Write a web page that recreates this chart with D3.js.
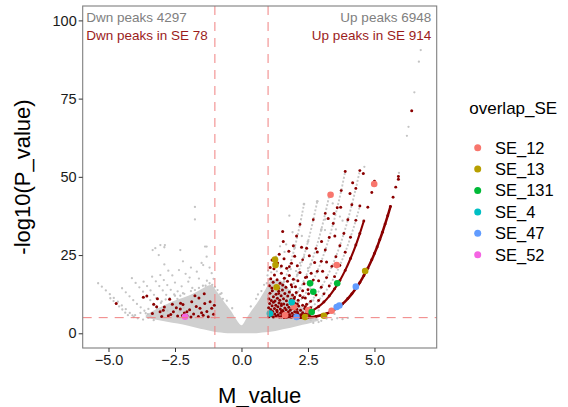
<!DOCTYPE html>
<html lang="en">
<head>
  <meta charset="UTF-8">
  <title>Volcano plot</title>
  <style>
    body { margin: 0; background: #fff; }
    text { font-family: "Liberation Sans", Arial, sans-serif; }
  </style>
  <script src="https://d3js.org/d3.v7.min.js"></script>
</head>
<body>
  <svg id="chart" width="568" height="407"></svg>
  <script>
    // ---- data ----
    const xTicks = [-5, -2.5, 0, 2.5, 5];
    const yTicks = [0, 25, 50, 75, 100];
    const foldCut = [-1, 1];
    const pCut = 5;

    const dwnTotal = 4297, dwnInSE = 78, upTotal = 6948, upInSE = 914;

    const seGroups = ["SE_12", "SE_13", "SE_131", "SE_4", "SE_47", "SE_52"];
    const seColors = ["#F8766D", "#B79F00", "#00BA38", "#00BFC4", "#619CFF", "#F564E3"];

    // dense grey core of non significant peaks: [M, low, high]
    const coreCloud = [
      [-3.6, 5.0, 5.8], [-3.2, 4.3, 7.8], [-2.8, 3.7, 9.4], [-2.4, 3.1, 10.8],
      [-2.0, 2.4, 12.0], [-1.7, 1.8, 13.2], [-1.4, 1.2, 14.6], [-1.15, 0.7, 15.4],
      [-0.9, 0.3, 13.0], [-0.65, 0.1, 10.0], [-0.4, 0.0, 7.2], [-0.2, 0.0, 4.5],
      [0.0, 0.0, 2.6], [0.2, 0.0, 5.0], [0.4, 0.0, 7.5], [0.65, 0.1, 10.5],
      [0.9, 0.3, 14.0], [1.15, 0.6, 17.0], [1.4, 1.0, 17.0], [1.7, 1.5, 15.0],
      [2.0, 2.1, 11.0], [2.3, 2.7, 8.0], [2.6, 3.3, 6.0], [2.9, 4.0, 4.6]
    ];

    // count arcs on the up side (outermost first)
    const arc1 = [[2.2,5.0],[2.5,5.1],[2.8,5.4],[3.0,5.8],[3.2,6.3],[3.4,7.1],[3.6,8.1],[3.8,9.4],[4.0,11.1],[4.15,12.6],[4.3,14.3],[4.45,16.2],[4.6,18.4],[4.75,20.8],[4.9,23.5],[5.0,25.5],[5.1,27.6],[5.2,29.9],[5.3,32.3],[5.4,34.9],[5.5,37.6],[5.6,40.5],[5.7,43.5],[5.8,46.7],[5.9,50.1]];
    const arc2 = [[1.6,5.0],[1.9,5.2],[2.2,5.6],[2.5,6.5],[2.7,7.4],[2.9,8.5],[3.1,10.0],[3.3,11.9],[3.5,14.2],[3.7,16.9],[3.9,20.1],[4.1,23.9],[4.3,28.2],[4.45,31.9],[4.6,35.9],[4.75,40.3],[4.9,45.0],[5.0,48.6]];
    const arc3 = [[1.7,5.2],[2.0,5.7],[2.3,6.6],[2.6,8.2],[2.9,10.5],[3.1,12.6],[3.3,15.1],[3.5,18.1],[3.7,21.7],[3.9,25.9],[4.1,30.7],[4.3,36.1],[4.45,40.7]];
    const arc4 = [[1.5,5.2],[1.8,5.8],[2.1,6.8],[2.4,8.5],[2.6,10.2],[2.8,12.2],[3.0,14.7],[3.2,17.8],[3.4,21.4],[3.55,24.5],[3.7,28.0],[3.85,31.9],[4.0,36.3],[4.15,41.1],[4.3,46.3],[4.45,52.0]];
    const arc5 = [[1.3,5.4],[1.6,6.3],[1.9,7.9],[2.1,9.4],[2.3,11.4],[2.5,13.9],[2.7,17.0],[2.85,19.8],[3.0,23.0],[3.15,26.6],[3.3,30.6],[3.45,35.1],[3.6,40.1],[3.75,45.6],[3.9,51.7]];
    const arc6 = [[1.2,5.8],[1.5,7.1],[1.8,9.4],[2.0,11.6],[2.2,14.3],[2.4,17.8],[2.6,22.0],[2.8,27.1],[3.0,33.1],[3.15,38.3],[3.3,44.0]];
    const arc7 = [[1.2,7.0],[1.5,9.4],[1.7,11.8],[1.9,14.8],[2.1,18.7],[2.3,23.5],[2.5,29.3],[2.7,36.3],[2.85,42.2]];
    const arc8 = [[1.2,9.8],[1.4,12.7],[1.6,16.5],[1.8,21.3],[2.0,27.4],[2.2,34.8],[2.35,41.3]];

    // scattered grey peaks
    const greyPts = [
      // down-side count lines
      [-5.39,16.0],[-5.25,14.9],[-5.1,13.7],[-4.95,12.5],[-4.8,11.3],[-4.65,10.1],[-4.5,8.9],[-4.35,7.7],[-4.2,6.5],[-4.1,5.7],
      [-4.93,11.2],[-4.81,10.3],[-4.6,8.6],[-4.48,7.6],[-4.37,6.6],[-4.27,5.8],
      [-4.49,14.4],[-4.35,13.1],[-4.21,11.8],[-4.07,10.6],[-3.93,9.4],[-3.79,8.3],[-3.65,7.2],[-3.52,6.1],[-3.42,5.3],
      [-4.12,17.6],[-3.98,16.1],[-3.84,14.7],[-3.7,13.3],[-3.43,10.6],[-3.18,8.1],[-2.95,5.8],
      [-3.68,16.5],[-3.55,15.1],[-3.42,13.7],[-3.29,12.3],[-3.03,9.7],[-2.78,7.2],
      [-3.36,18.1],[-3.22,16.6],[-3.09,15.1],[-2.96,13.7],[-2.83,12.3],[-2.57,9.5],[-2.33,6.9],
      [-3.05,18.6],[-2.92,17.0],[-2.79,15.4],[-2.66,13.9],[-2.53,12.4],[-2.41,11.0],[-2.17,8.2],
      // down-side halo
      [-1.75,40.4],[-1.75,36.4],[-2.88,28.2],[-3.34,26.6],[-3.24,27.2],[-3.05,28.2],[-2.9,27.5],[-3.11,25.0],
      [-2.30,26.6],[-1.31,27.7],[-1.37,27.7],[-1.31,24.5],[-1.44,21.8],[-1.12,19.2],[-1.68,19.7],[-1.9,21.0],
      [-2.1,19.0],[-2.35,20.2],[-2.6,18.5],[-2.0,16.5],[-1.6,17.5],[-1.3,16.8],[-2.25,15.0],[-2.5,16.2],
      [-1.85,14.5],[-1.1,15.5],[-0.9,13.8],[-1.5,22.5],[-2.75,20.0],[-2.2,23.0],[-1.2,21.0],[-0.8,12.5],
      [-2.9,22.0],[-1.95,17.8],[-1.45,15.2],[-2.4,13.4],[-2.15,12.6],[-1.05,17.4],[-0.7,11.0],[-3.2,11.2],
      [-3.8,6.5],[-3.5,7.8],[-3.3,9.0],[-3.0,10.2],[-2.7,11.2],[-2.5,12.0],[-2.2,12.8],[-1.9,13.5],
      [-1.6,14.5],[-1.35,15.2],[-1.2,16.0],[-1.0,14.8],[-0.75,12.8],[-0.55,10.4],[-0.35,8.0],[-4.0,5.8],
      [-3.6,6.4],[-2.85,10.8],[-2.3,12.0],[-1.75,13.8],
      [-3.9,4.8],[-3.7,4.4],[-3.5,4.9],[-4.05,5.2],[-3.3,4.2],
      // around the notch and the up-side hump
      [0.35,8.6],[0.55,11.0],[0.75,13.5],[0.85,15.5],[0.62,12.4],
      // up-side halo
      [1.80,37.6],[1.92,32.3],[2.27,31.1],[3.43,41.5],[3.70,37.3],[3.15,36.4],[3.80,36.0],[3.55,33.2],
      [3.14,33.0],[4.62,53.2],[6.74,90.5],[6.67,86.8],[6.50,77.0],[6.28,66.0],[6.22,63.1],[5.92,51.3],
      [1.12,19.5],[1.2,22.2],[1.33,19.8],[1.47,21.0],[1.62,26.0],[1.3,24.5],[1.05,17.0],[1.85,20.5],
      [2.05,19.9],[2.6,14.2],[2.5,20.8],[2.2,22.5],[1.68,28.4],[1.45,27.8],[2.35,24.3],[2.7,10.5],
      [2.9,7.3],[3.2,5.5],[3.5,6.2],[0.95,16.0],[0.98,18.5],[1.0,20.0],
      [2.6,4.2],[2.8,4.6],[3.0,4.0],[3.2,4.7],[3.4,4.4],[2.9,3.6],[3.6,4.8],[3.8,4.5],[4.0,4.9],[2.7,3.3]
    ];

    // significant peaks overlapping an SE (dark red)
    const redPts = [
      // down side
      [-4.71,9.5],[-3.56,11.9],[-3.3,9.3],[-3.06,6.9],[-3.16,11.0],[-2.9,8.4],[-2.66,6.0],[-2.7,10.9],
      [-2.45,8.2],[-2.22,5.7],[-2.29,9.6],[-2.05,6.9],
      [-3.69,11.5],[-3.19,8.5],[-2.94,7.4],[-2.56,6.9],[-2.4,5.5],[-2.3,7.8],[-2.2,9.2],[-2.05,5.6],
      [-1.95,7.5],[-1.87,10.1],[-1.8,6.2],[-1.7,8.6],[-1.62,5.4],[-1.56,8.0],[-1.5,6.6],[-1.44,5.8],
      [-1.38,9.5],[-1.3,7.0],[-1.25,5.3],[-1.18,10.1],[-1.12,8.0],[-1.05,6.1],[-1.02,9.0],[-1.6,11.3],
      [-2.6,9.3],[-2.75,5.6],[-3.0,5.4],[-3.35,6.3],[-2.15,6.5],[-1.75,12.0],[-1.4,12.6],[-1.9,5.2],
      // up side, Y 5-7
      [1.03,5.3],[1.08,6.6],[1.12,5.6],[1.17,7.0],[1.2,5.2],[1.25,6.2],[1.3,5.5],[1.34,6.9],[1.38,5.9],
      [1.43,5.2],[1.47,6.5],[1.52,5.7],[1.57,6.9],[1.6,5.3],[1.66,6.2],[1.71,5.5],[1.76,6.8],[1.8,5.9],
      [1.86,5.2],[1.9,6.4],[1.95,5.6],[2.0,6.9],[2.05,5.9],[2.12,6.3],[2.18,5.4],[2.25,6.0],[2.32,5.6],
      [2.4,6.2],[2.48,5.5],[2.56,5.9],
      // Y 7-10
      [1.02,8.2],[1.06,9.5],[1.1,7.6],[1.15,8.8],[1.2,9.9],[1.24,7.9],[1.29,9.0],[1.33,7.4],[1.37,8.5],
      [1.41,9.7],[1.46,7.8],[1.5,8.9],[1.55,7.3],[1.59,9.4],[1.63,8.1],[1.68,7.5],[1.72,9.1],[1.78,8.3],
      [1.83,7.4],[1.88,9.3],[1.93,8.0],[2.0,9.6],[2.08,7.7],[2.15,8.7],[2.22,7.4],[2.3,9.0],[2.38,7.9],[2.45,9.3],
      // Y 10-14
      [1.03,11.0],[1.07,12.8],[1.12,10.5],[1.16,13.6],[1.2,11.7],[1.26,10.3],[1.3,12.5],[1.35,11.2],
      [1.4,13.4],[1.44,10.6],[1.49,12.0],[1.54,13.8],[1.58,11.0],[1.63,12.7],[1.69,10.4],[1.74,11.9],
      [1.8,13.2],[1.86,10.8],[1.92,12.2],[1.98,11.1],[2.06,13.0],[2.13,10.6],[2.2,12.1],[2.3,13.6],
      [2.4,11.3],[2.52,12.6],
      // Y 14-20
      [1.05,15.2],[1.1,17.4],[1.14,14.5],[1.19,16.3],[1.24,18.6],[1.29,15.0],[1.34,17.1],[1.39,14.4],
      [1.45,16.0],[1.5,19.2],[1.55,15.4],[1.61,17.6],[1.67,14.7],[1.73,16.6],[1.8,18.5],[1.87,15.5],
      [1.95,17.3],[2.03,14.9],[2.12,16.8],[2.2,19.4],[2.35,15.8],[2.45,18.0],
      // Y 20-30
      [1.08,21.0],[1.15,23.4],[1.22,20.6],[1.36,22.5],[1.42,25.3],[1.5,21.5],[1.6,23.8],[1.7,20.8],
      [1.78,26.2],[1.88,22.4],[2.0,24.6],[2.1,21.6],[2.26,27.5],[2.45,27.2],[1.57,29.3],[1.95,28.0],
      [2.62,19.2],[2.75,22.6],[2.9,16.8],[3.05,19.8],[2.55,24.8],[2.85,26.0],[3.2,22.8],
      // upper scatter
      [1.55,32.5],[2.07,31.1],[3.01,29.3],[3.26,36.7],[3.48,38.3],[3.51,31.1],[3.73,40.3],[4.08,44.7],
      [4.18,48.1],[4.58,51.1],[6.40,71.1],[5.9,49.2]
    ];

    // peaks coloured by overlapping SE: [group, M, -log10 P]
    const sePoints = [
      ["SE_12",1.64,5.8],["SE_12",1.97,8.5],["SE_12",2.51,7.4],["SE_12",3.39,7.2],
      ["SE_12",3.58,21.8],["SE_12",3.35,44.3],["SE_12",4.99,47.7],
      ["SE_13",1.26,23.6],["SE_13",1.28,21.8],["SE_13",1.32,14.7],["SE_13",2.39,5.2],
      ["SE_13",3.10,5.6],["SE_13",4.65,19.9],
      ["SE_131",2.58,16.0],["SE_131",2.70,13.3],["SE_131",2.64,6.8],["SE_131",3.60,16.0],
      ["SE_4",1.07,6.3],["SE_4",1.89,9.9],
      ["SE_47",2.07,5.2],["SE_47",3.58,8.4],["SE_47",3.68,8.9],["SE_47",4.30,14.9],
      ["SE_52",-2.12,5.3]
    ];

    // ---- layout ----
    const svg = d3.select("#chart");
    const panel = {left: 82.7, right: 436.7, top: 6, bottom: 348};
    const darkRed = "#8B0000";
    const grey = "#cfcfcf";

    const x = d3.scaleLinear().domain([-5.97, 7.34]).range([panel.left, panel.right]);
    const y = d3.scaleLinear().domain([-4.7, 104.6]).range([panel.bottom, panel.top]);
    const color = d3.scaleOrdinal().domain(seGroups).range(seColors);

    svg.append("rect").attr("width", 568).attr("height", 407).attr("fill", "#fff");

    svg.append("clipPath").attr("id", "clip").append("rect")
      .attr("x", panel.left).attr("y", panel.top)
      .attr("width", panel.right - panel.left).attr("height", panel.bottom - panel.top);

    const plot = svg.append("g").attr("clip-path", "url(#clip)");

    // dense grey cloud
    plot.append("path")
      .datum(coreCloud)
      .attr("fill", grey)
      .attr("d", d3.area()
        .x(d => x(d[0])).y0(d => y(d[1])).y1(d => y(d[2]))
        .curve(d3.curveMonotoneX));

    // scattered grey peaks
    plot.selectAll(".grey").data(greyPts).enter().append("circle")
      .attr("cx", d => x(d[0])).attr("cy", d => y(d[1]))
      .attr("r", 1.15).attr("fill", "#c4c4c4");

    const line = d3.line().x(d => x(d[0])).y(d => y(d[1])).curve(d3.curveCatmullRom);

    // sparse arcs: grey strings of peaks
    [arc3, arc4, arc5, arc6, arc7, arc8].forEach(a => {
      plot.append("path").datum(a)
        .attr("fill", "none").attr("stroke", "#c8c8c8")
        .attr("stroke-width", 1.9).attr("stroke-dasharray", "2,1.8")
        .attr("d", line);
    });

    // dense arcs: solid strings of dark red peaks
    [arc1, arc2].forEach((a, i) => {
      plot.append("path").datum(a.filter(d => d[1] <= (i === 0 ? 41 : 37)))
        .attr("fill", "none").attr("stroke", darkRed)
        .attr("stroke-width", i === 0 ? 2.5 : 2.1).attr("stroke-linecap", "round")
        .attr("d", line);
    });

    [arc1, arc2, arc3, arc4, arc5].forEach(a => {
      plot.append("g").selectAll("circle").data(a).enter().append("circle")
        .attr("cx", d => x(d[0])).attr("cy", d => y(d[1]))
        .attr("r", 1.45).attr("fill", darkRed);
    });
    [arc6, arc7, arc8].forEach(a => {
      plot.append("g").selectAll("circle").data(a).enter().append("circle")
        .attr("cx", d => x(d[0])).attr("cy", d => y(d[1]))
        .attr("r", 1.35).attr("fill", (d, i) => i % 2 ? darkRed : "#c4c4c4");
    });

    // significant peaks in SE
    plot.selectAll(".red").data(redPts).enter().append("circle")
      .attr("cx", d => x(d[0])).attr("cy", d => y(d[1]))
      .attr("r", 1.5).attr("fill", darkRed);

    // coloured SE peaks
    plot.selectAll(".se").data(sePoints).enter().append("circle")
      .attr("cx", d => x(d[1])).attr("cy", d => y(d[2]))
      .attr("r", 3.3).attr("fill", d => color(d[0]));

    // threshold lines
    foldCut.forEach(v => {
      plot.append("line")
        .attr("x1", x(v)).attr("x2", x(v)).attr("y1", panel.top).attr("y2", panel.bottom)
        .attr("stroke", "#F08080").attr("stroke-width", 1).attr("stroke-dasharray", "9,7");
    });
    plot.append("line")
      .attr("x1", panel.left).attr("x2", panel.right).attr("y1", y(pCut)).attr("y2", y(pCut))
      .attr("stroke", "#F08080").attr("stroke-width", 1).attr("stroke-dasharray", "9,7");

    // annotations
    const note = svg.append("g").style("font-size", "13.5px");
    note.append("text").attr("x", panel.left + 3.5).attr("y", 22.3).attr("fill", "#808080")
      .text(`Dwn peaks ${dwnTotal}`);
    note.append("text").attr("x", panel.left + 3.5).attr("y", 39.8).attr("fill", "#9b1c1c")
      .text(`Dwn peaks in SE ${dwnInSE}`);
    note.append("text").attr("x", panel.right - 5.5).attr("y", 22.3).attr("fill", "#808080")
      .attr("text-anchor", "end").text(`Up peaks ${upTotal}`);
    note.append("text").attr("x", panel.right - 5.5).attr("y", 39.8).attr("fill", "#9b1c1c")
      .attr("text-anchor", "end").text(`Up peaks in SE ${upInSE}`);

    // panel border
    svg.append("rect")
      .attr("x", panel.left).attr("y", panel.top)
      .attr("width", panel.right - panel.left).attr("height", panel.bottom - panel.top)
      .attr("fill", "none").attr("stroke", "#7f7f7f").attr("stroke-width", 1.1);

    // axes
    const xAxis = svg.append("g")
      .attr("transform", `translate(0,${panel.bottom})`)
      .call(d3.axisBottom(x).tickValues(xTicks).tickFormat(d3.format(".1f")).tickSize(4).tickPadding(3));
    const yAxis = svg.append("g")
      .attr("transform", `translate(${panel.left},0)`)
      .call(d3.axisLeft(y).tickValues(yTicks).tickSize(4).tickPadding(2));
    [xAxis, yAxis].forEach(g => {
      g.select(".domain").remove();
      g.selectAll("line").attr("stroke", "#333");
      g.selectAll("text").attr("fill", "#1a1a1a")
        .style("font-size", "14.5px").style("font-family", "'Liberation Sans', Arial, sans-serif");
    });

    // axis titles
    svg.append("text").attr("x", (panel.left + panel.right) / 2).attr("y", 402.5)
      .attr("text-anchor", "middle").style("font-size", "22px").attr("fill", "#000")
      .text("M_value");
    svg.append("text")
      .attr("transform", `translate(30,${(panel.top + panel.bottom) / 2}) rotate(-90)`)
      .attr("text-anchor", "middle").style("font-size", "22px").attr("fill", "#000")
      .text("-log10(P_value)");

    // legend
    const legend = svg.append("g");
    legend.append("text").attr("x", 469.3).attr("y", 114.3)
      .style("font-size", "17px").attr("fill", "#000").text("overlap_SE");
    const items = legend.selectAll(".item").data(seGroups).enter().append("g")
      .attr("transform", (d, i) => `translate(0,${147.7 + i * 21.4})`);
    items.append("circle").attr("cx", 477.7).attr("cy", 0).attr("r", 3.5)
      .attr("fill", d => color(d));
    items.append("text").attr("x", 495).attr("y", 5.9)
      .style("font-size", "16.5px").attr("fill", "#000").text(d => d);
  </script>
</body>
</html>
